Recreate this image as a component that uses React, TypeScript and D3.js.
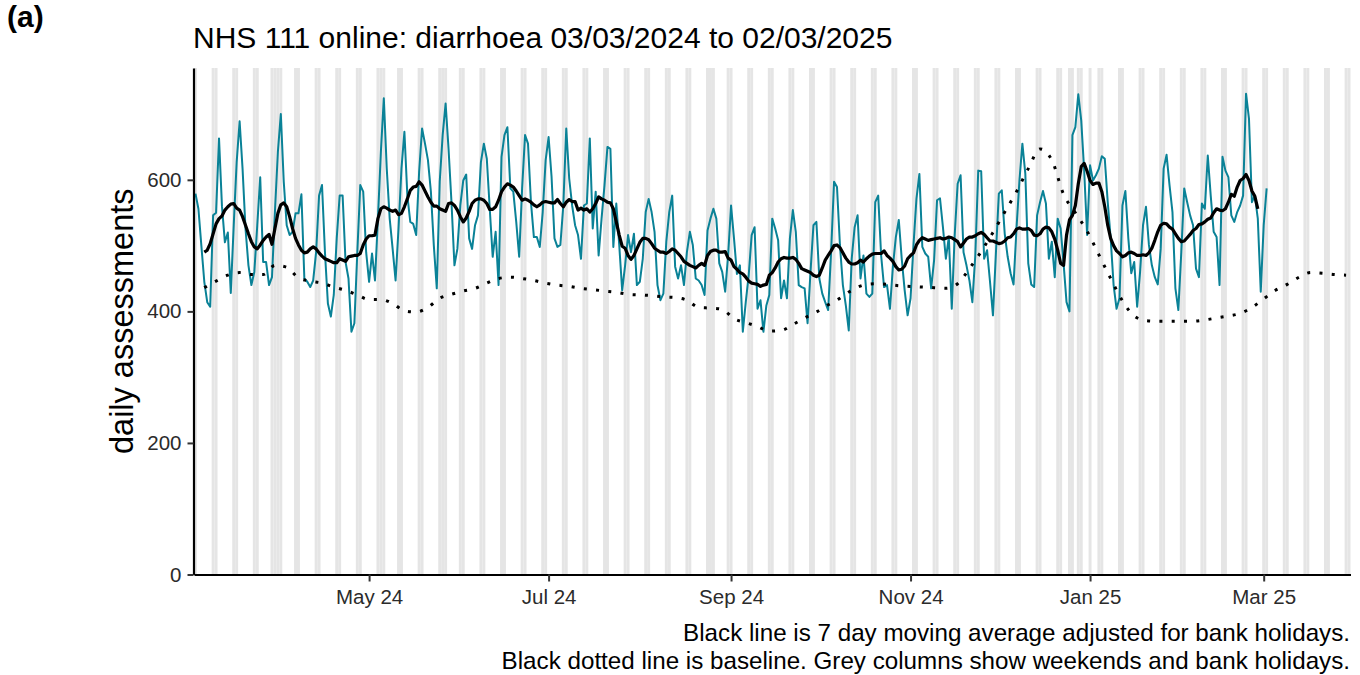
import React, { useEffect, useRef } from 'react';
import * as d3 from 'd3';

// daily NHS 111 online assessments for diarrhoea, from 03/03/2024
const firstDay = '2024-03-03';
const dailyAssessments = [
  579, 556, 500, 445, 414, 407, 546, 550, 663, 560,
  505, 520, 428, 531, 627, 689, 617, 526, 470, 440,
  460, 531, 604, 475, 475, 440, 452, 551, 642, 700,
  597, 531, 516, 521, 549, 549, 578, 450, 445, 437,
  447, 490, 576, 592, 490, 412, 392, 425, 511, 576,
  576, 475, 450, 369, 382, 490, 592, 582, 490, 445,
  488, 447, 541, 642, 724, 617, 541, 495, 447, 526,
  617, 673, 576, 536, 533, 516, 612, 678, 655, 630,
  582, 500, 435, 597, 668, 716, 647, 566, 470, 495,
  561, 599, 608, 511, 495, 531, 546, 627, 655, 632,
  556, 483, 521, 440, 635, 668, 680, 587, 582, 536,
  483, 587, 668, 655, 566, 513, 513, 498, 551, 630,
  665, 605, 511, 498, 501, 561, 678, 602, 561, 531,
  516, 480, 561, 564, 663, 526, 582, 485, 541, 592,
  650, 647, 498, 564, 501, 432, 470, 516, 490, 518,
  440, 445, 480, 551, 571, 551, 521, 440, 417, 427,
  506, 551, 576, 468, 450, 470, 440, 490, 521, 501,
  450, 447, 440, 425, 523, 541, 556, 541, 473, 460,
  430, 485, 561, 511, 457, 470, 369, 414, 455, 516,
  528, 404, 417, 369, 409, 425, 541, 526, 508, 420,
  447, 420, 511, 554, 521, 440, 437, 435, 382, 460,
  531, 536, 450, 427, 414, 402, 490, 597, 589, 501,
  440, 409, 371, 480, 528, 546, 450, 485, 427, 422,
  427, 566, 576, 485, 437, 440, 404, 468, 513, 539,
  480, 432, 394, 420, 501, 571, 609, 498, 488, 483,
  435, 478, 569, 572, 528, 480, 513, 404, 516, 594,
  607, 490, 470, 447, 414, 485, 614, 613, 480, 493,
  445, 394, 488, 579, 584, 518, 483, 458, 441, 526,
  599, 655, 609, 473, 441, 437, 546, 566, 583, 564,
  480, 506, 452, 541, 526, 473, 414, 400, 668, 680,
  730, 690, 614, 516, 622, 599, 607, 617, 636, 632,
  566, 511, 440, 404, 420, 561, 583, 511, 458, 475,
  407, 460, 531, 559, 501, 470, 452, 441, 495, 617,
  638, 592, 551, 435, 402, 490, 587, 566, 546, 531,
  465, 452, 564, 556, 637, 576, 521, 513, 440, 635,
  614, 604, 546, 536, 551, 561, 576, 731, 693, 566,
  576, 541, 430, 531, 587,
];

// 7 day moving average (adjusted for bank holidays), from 06/03/2024
const movingAverageStart = '2024-03-06';
const movingAverage = [
  490, 493, 503, 518, 533, 541, 545, 554, 559, 563,
  564, 557, 554, 544, 531, 518, 506, 498, 495, 501,
  508, 513, 517, 502, 526, 549, 562, 565, 559, 544,
  526, 511, 501, 493, 489, 490, 495, 498, 495, 489,
  484, 480, 478, 476, 474, 474, 480, 478, 476, 483,
  484, 485, 485, 488, 501, 510, 515, 515, 516, 541,
  556, 559, 557, 554, 552, 554, 547, 549, 559, 571,
  584, 589, 590, 597, 592, 583, 574, 566, 560, 560,
  556, 554, 552, 564, 565, 561, 554, 544, 536, 542,
  552, 564, 569, 571, 571, 569, 564, 555, 555, 559,
  569, 582, 589, 594, 592, 589, 583, 576, 569, 571,
  569, 566, 562, 559, 562, 566, 567, 566, 565, 565,
  570, 564, 559, 566, 570, 567, 567, 554, 557, 554,
  556, 551, 556, 564, 574, 571, 569, 566, 565, 556,
  536, 516, 499, 496, 485, 479, 485, 495, 505, 511,
  511, 509, 503, 496, 493, 490, 490, 488, 491, 495,
  493, 488, 483, 476, 473, 470, 468, 466, 470, 473,
  470, 485, 491, 493, 493, 490, 490, 491, 481, 478,
  468, 464, 459, 457, 452, 446, 443, 442, 441, 438,
  440, 441, 455, 459, 466, 475, 480, 482, 481, 481,
  482, 479, 473, 465, 463, 461, 459, 455, 453, 455,
  466, 478, 485, 492, 500, 501, 497, 489, 481, 475,
  472, 472, 474, 478, 475, 480, 484, 487, 488, 488,
  488, 492, 485, 481, 476, 468, 463, 464, 469, 480,
  485, 489, 501, 508, 512, 510, 508, 509, 510, 511,
  512, 510, 511, 513, 512, 509, 506, 498, 504, 510,
  513, 513, 515, 518, 520, 517, 512, 507, 507, 505,
  503, 504, 507, 512, 513, 518, 525, 527, 525, 525,
  526, 523, 516, 515, 518, 525, 528, 527, 521, 510,
  493, 473, 470, 516, 539, 546, 561, 594, 620, 625,
  613, 599, 593, 595, 595, 582, 559, 531, 511, 500,
  492, 488, 483, 485, 489, 490, 488, 485, 485, 486,
  485, 489, 496, 508, 521, 531, 534, 533, 528, 525,
  518, 511, 506, 507, 512, 517, 523, 526, 532, 533,
  536, 540, 542, 550, 556, 554, 553, 556, 566, 578,
  575, 589, 599, 602, 608, 599, 583, 575, 556,
];

// baseline, one value every 4 days from 06/03/2024
const baselineStart = '2024-03-06';
const baselineStepDays = 4;
const baseline = [
  436, 446, 455, 459, 456, 456, 470, 467, 451, 446,
  443, 437, 432, 425, 418, 418, 412, 401, 399, 406,
  420, 426, 431, 435, 443, 450, 452, 450, 447, 443,
  440, 438, 435, 433, 431, 429, 426, 425, 424, 422,
  421, 417, 406, 405, 403, 389, 383, 377, 370, 371,
  380, 390, 399, 410, 420, 432, 440, 442, 441, 439,
  438, 437, 436, 435, 442, 465, 491, 520, 551, 582,
  617, 647, 630, 578, 550, 522, 486, 450, 416, 393,
  386, 385, 385, 385, 385, 387, 390, 393, 397, 406,
  419, 432, 441, 452, 459, 458, 456, 455,
];

const bankHolidays = [
  '2024-03-29', '2024-04-01', '2024-05-06', '2024-05-27',
  '2024-08-26', '2024-12-25', '2024-12-26', '2025-01-01',
];
const shadeFrom = '2024-03-03';
const shadeTo = '2025-03-30';

const yTicks = [0, 200, 400, 600];
const yMax = 770;

const panelLabel = '(a)';
const titleText = 'NHS 111 online: diarrhoea 03/03/2024 to 02/03/2025';
const yTitle = 'daily assessments';
const captionLines = [
  'Black line is 7 day moving average adjusted for bank holidays.',
  'Black dotted line is baseline. Grey columns show weekends and bank holidays.',
];

const FONT = "'Liberation Sans', Arial, sans-serif";
const TEAL = '#0a8297';

const App = () => {
  const svgRef = useRef<SVGSVGElement | null>(null);

  useEffect(() => {
    const parse = d3.utcParse('%Y-%m-%d');
    const panel = { left: 194, right: 1350.5, top: 68, bottom: 574.5 };

    const svg = d3.select(svgRef.current);
    svg.selectAll('*').remove();

    const x = d3.scaleUtc()
      .domain([d3.utcHour.offset(parse(shadeFrom)!, -12), d3.utcHour.offset(parse(shadeTo)!, 12)])
      .range([panel.left, panel.right]);
    const y = d3.scaleLinear().domain([0, yMax]).range([panel.bottom, panel.top]);

    // weekends + bank holidays as grey columns
    const holidaySet = new Set(bankHolidays);
    const fmt = d3.utcFormat('%Y-%m-%d');
    const shaded = d3.utcDay.range(parse(shadeFrom)!, d3.utcDay.offset(parse(shadeTo)!, 1))
      .filter(d => d.getUTCDay() === 0 || d.getUTCDay() === 6 || holidaySet.has(fmt(d)));

    svg.append('g')
      .selectAll('rect')
      .data(shaded)
      .join('rect')
      .attr('x', d => x(d3.utcHour.offset(d, -12)))
      .attr('width', d => x(d3.utcHour.offset(d, 12)) - x(d3.utcHour.offset(d, -12)))
      .attr('y', panel.top)
      .attr('height', panel.bottom - panel.top)
      .attr('fill', '#e5e5e5');

    const day0 = parse(firstDay)!;
    const daily = dailyAssessments.map((v, i) => ({ date: d3.utcDay.offset(day0, i), value: v }));
    const ma0 = parse(movingAverageStart)!;
    const ma = movingAverage.map((v, i) => ({ date: d3.utcDay.offset(ma0, i), value: v }));
    const b0 = parse(baselineStart)!;
    const base = baseline.map((v, i) => ({ date: d3.utcDay.offset(b0, i * baselineStepDays), value: v }));

    const line = d3.line<{ date: Date; value: number }>()
      .x(d => x(d.date))
      .y(d => y(d.value));

    svg.append('path')
      .attr('d', line(daily))
      .attr('fill', 'none')
      .attr('stroke', TEAL)
      .attr('stroke-width', 2)
      .attr('stroke-linejoin', 'round');

    svg.append('path')
      .attr('d', line.curve(d3.curveMonotoneX)(base))
      .attr('fill', 'none')
      .attr('stroke', '#000')
      .attr('stroke-width', 3)
      .attr('stroke-dasharray', '3 9.3');

    svg.append('path')
      .attr('d', line.curve(d3.curveLinear)(ma))
      .attr('fill', 'none')
      .attr('stroke', '#000')
      .attr('stroke-width', 3.2)
      .attr('stroke-linejoin', 'round');

    // axes
    const yAxis = svg.append('g')
      .attr('transform', `translate(${panel.left - 0.5},0)`)
      .call(d3.axisLeft(y).tickValues(yTicks).tickSize(6).tickSizeOuter(0).tickPadding(6));
    const xAxis = svg.append('g')
      .attr('transform', `translate(0,${panel.bottom})`)
      .call(d3.axisBottom(x).ticks(d3.utcMonth.every(2)).tickFormat(d3.utcFormat('%b %y') as any)
        .tickSize(7).tickSizeOuter(0).tickPadding(8));

    [yAxis, xAxis].forEach(g => {
      g.select('.domain').attr('stroke', '#000').attr('stroke-width', 2.2);
      g.selectAll('.tick line').attr('stroke', '#333').attr('stroke-width', 2);
      g.selectAll('.tick text')
        .attr('fill', '#2b2b2b')
        .style('font-family', FONT)
        .style('font-size', '20.5px');
    });

    svg.append('text')
      .attr('transform', `translate(133,${(panel.top + panel.bottom) / 2}) rotate(-90)`)
      .attr('text-anchor', 'middle')
      .style('font-family', FONT)
      .style('font-size', '32.5px')
      .text(yTitle);

    svg.append('text')
      .attr('x', 193)
      .attr('y', 48)
      .style('font-family', FONT)
      .style('font-size', '30px')
      .text(titleText);

    svg.append('text')
      .attr('x', 7)
      .attr('y', 27)
      .style('font-family', FONT)
      .style('font-size', '30px')
      .style('font-weight', 'bold')
      .text(panelLabel);

    svg.append('g')
      .selectAll('text')
      .data(captionLines)
      .join('text')
      .attr('x', 1350)
      .attr('y', (_, i) => 641 + i * 28)
      .attr('text-anchor', 'end')
      .style('font-family', FONT)
      .style('font-size', '24.2px')
      .text(d => d);
  }, []);

  return (
    <div style={{ position: 'absolute', left: 0, top: 0, width: 1360, height: 675, background: '#fff' }}>
      <svg ref={svgRef} width={1360} height={675} />
    </div>
  );
};

export default App;
